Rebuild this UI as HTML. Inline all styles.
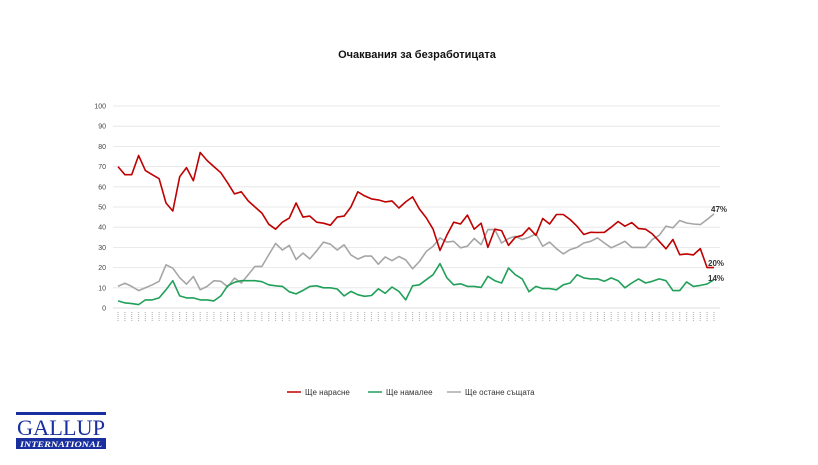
<!DOCTYPE html>
<html><head><meta charset="utf-8"><style>
body{margin:0;width:818px;height:460px;background:#fff;overflow:hidden;font-family:"Liberation Sans","DejaVu Sans",sans-serif}
</style></head><body>
<svg id="s" width="818" height="460" xmlns="http://www.w3.org/2000/svg">
<text x="417" y="58" text-anchor="middle" font-size="11" font-weight="bold" fill="#111">Очаквания за безработицата</text>
<g id="grid"></g>
<g id="lines"></g>
<g font-size="8" font-weight="bold" fill="#333">
<text x="711" y="212">47%</text>
<text x="708" y="266">20%</text>
<text x="708" y="281">14%</text>
</g>
<g font-size="8" fill="#333">
<line x1="287" y1="392" x2="301" y2="392" stroke="#c00000" stroke-width="1.5"/><text x="305" y="395">Ще нарасне</text>
<line x1="368" y1="392" x2="382" y2="392" stroke="#21a05a" stroke-width="1.5"/><text x="386" y="395">Ще намалее</text>
<line x1="447" y1="392" x2="461" y2="392" stroke="#aaa" stroke-width="1.5"/><text x="465" y="395">Ще остане същата</text>
</g>
<rect x="16" y="412" width="90" height="3" fill="#1a2f9e"/>
<text x="61" y="435" text-anchor="middle" font-family="Liberation Serif,serif" font-size="22" fill="#1a2f9e" textLength="88" lengthAdjust="spacingAndGlyphs">GALLUP</text>
<rect x="16" y="438" width="90" height="11" fill="#1a2f9e"/>
<text x="61" y="447" text-anchor="middle" font-family="Liberation Serif,serif" font-size="8" font-style="italic" font-weight="bold" fill="#fff" textLength="82" lengthAdjust="spacingAndGlyphs">INTERNATIONAL</text>
</svg>
<script>
var red=[70,66,66,75.5,68,66,64,52,48,65,69.5,63,77,73,70,67,62,56.5,57.5,53,50,47,41.5,39,42.5,44.5,52,45,45.5,42.5,42,41,45,45.5,50,57.5,55.5,54,53.5,52.5,53,49.5,52.5,55,
49,44.6,39,28.5,36,42.5,41.6,46,39,42,30,39,38.3,31,35,36,39.7,36,44.3,41.6,46.3,46.3,43.8,40.5,36.4,37.5,37.4,37.5,40,42.8,40.5,42.3,39.3,39,36.7,33,29.3,33.9,26.4,26.8,26.3,29.4,20,20];
var green=[3.5,2.5,2.2,1.7,4,4,5,9,13.5,6,5,5,4,4,3.5,6,11,12.7,13.5,13.5,13.5,13,11.5,11,10.7,8,7,8.7,10.7,11,10,10,9.4,6,8.2,6.6,5.8,6.2,9.5,7.3,10.4,8.2,4,11,
11.5,14,16.5,22,15,11.5,12,10.7,10.7,10.2,15.7,13.5,12.4,19.8,16.5,14.4,8,10.7,9.6,9.6,9,11.5,12.4,16.5,14.9,14.4,14.4,13.2,14.9,13.5,10,12.4,14.4,12.4,13.2,14.4,13.5,8.6,8.6,12.9,10.7,11.2,11.9,14];
var gray=[10.7,12.3,10.7,8.6,10,11.5,13.2,21.4,19.7,15,11.8,15.6,9,10.7,13.5,13.2,10.5,14.8,12.4,16.5,20.6,20.6,26.3,32,28.7,31,24,27.2,24.3,28.3,32.6,31.6,28.7,31.3,26.3,24.2,25.7,25.7,21.7,25.3,23.4,25.5,23.8,19.4,
23,28,30.6,34.7,32.6,33,29.8,30.6,34.4,31.4,38.8,38.8,32.2,34.4,35.5,33.9,35,36.7,30.6,32.6,29.4,26.8,28.9,30,32.2,33,34.7,32.2,29.8,31.4,33,30,30,30,33.9,36,40.5,39.7,43.3,42.1,41.6,41.3,43.8,46.6];
var NS="http://www.w3.org/2000/svg",x0=118,x1=714,y0=308,k=2.02;
function el(t,a,p){var e=document.createElementNS(NS,t);for(var i in a)e.setAttribute(i,a[i]);if(p)p.appendChild(e);return e;}
var g=document.getElementById('grid');
for(var v=0;v<=100;v+=10){var y=y0-v*k;
 el('line',{x1:113,x2:720,y1:y,y2:y,stroke:v?'#e3e3e3':'#d0d0d0','stroke-width':0.8},g);
 var t=el('text',{x:106,y:y+2.5,'text-anchor':'end','font-size':7,fill:'#444'},g);t.textContent=v;}
var n=88,dx=(x1-x0)/(n-1);
for(var i=0;i<n;i++){var x=x0+i*dx;el('line',{x1:x,x2:x,y1:312,y2:322,stroke:'#bbb','stroke-width':1.2,'stroke-dasharray':'1,1'},g);}
var L=document.getElementById('lines');
[[gray,'#a6a6a6'],[green,'#21a05a'],[red,'#c00000']].forEach(function(s){
 var pts=s[0].map(function(v,i){return (x0+i*(x1-x0)/(s[0].length-1)).toFixed(1)+','+(y0-v*k).toFixed(1)}).join(' ');
 el('polyline',{points:pts,fill:'none',stroke:s[1],'stroke-width':1.6,'stroke-linejoin':'round'},L);});
</script>
</body></html>
